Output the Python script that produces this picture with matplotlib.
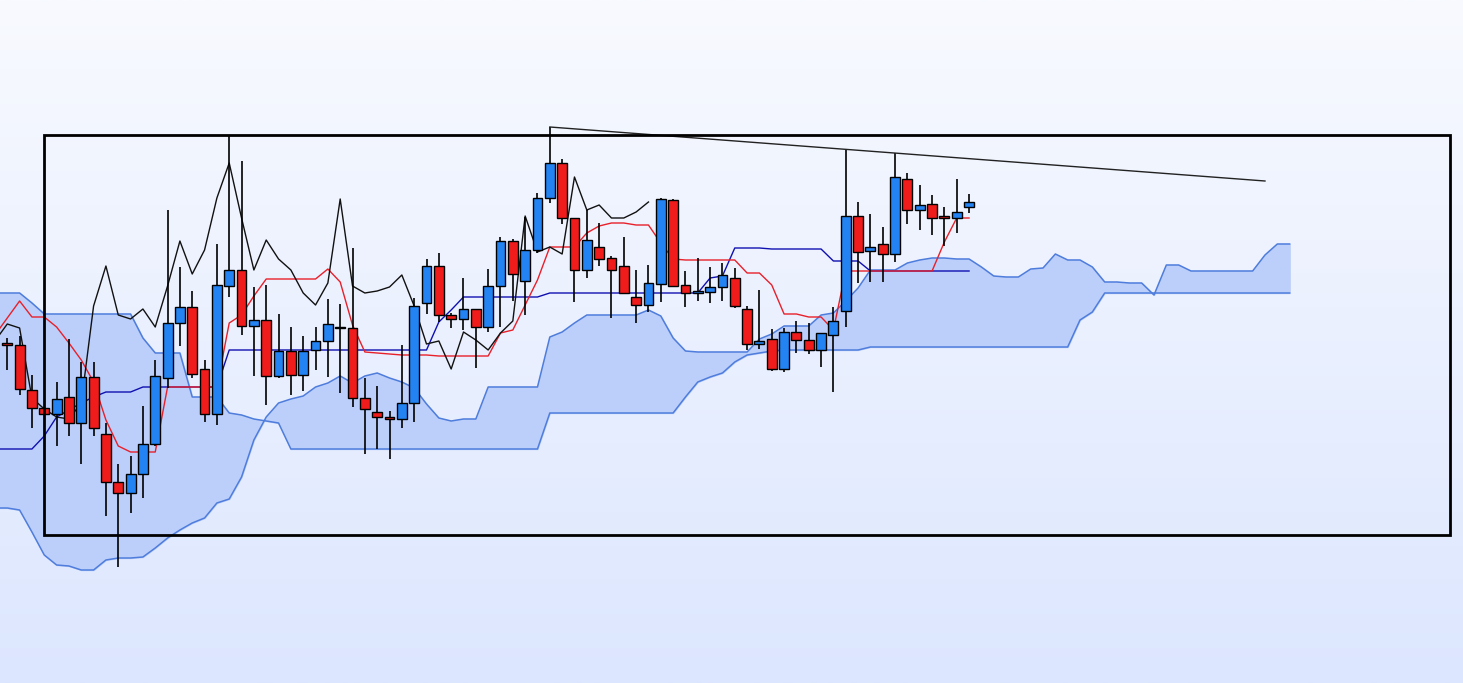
import numpy as np
import matplotlib
matplotlib.use("Agg")
import matplotlib.pyplot as plt
from matplotlib.patches import Rectangle

# candles (price units), index 0..78
opens = [357, 355, 310, 292, 286, 303, 277, 323, 266, 218,
         207, 226, 256, 322, 377, 393, 331, 286, 414, 430,
         374, 380, 324, 349, 325, 350, 359, 373, 372, 302,
         288, 283, 281, 297, 397, 434, 385, 381, 391, 373,
         414, 459, 419, 450, 502, 537, 482, 430, 453, 442,
         434, 403, 395, 416, 500, 415, 407, 408, 413, 422,
         391, 356, 361, 331, 368, 360, 350, 365, 389, 484,
         449, 456, 446, 521, 490, 496, 484, 482, 493]
highs = [362, 364, 325, 293, 318, 361, 338, 338, 277, 236,
         244, 294, 340, 490, 433, 409, 340, 456, 565, 539,
         413, 415, 386, 373, 364, 373, 401, 396, 452, 322,
         314, 289, 355, 402, 441, 447, 387, 422, 391, 431,
         463, 461, 483, 507, 573, 541, 482, 490, 477, 444,
         463, 430, 435, 502, 501, 429, 442, 433, 437, 432,
         394, 410, 371, 372, 379, 377, 367, 393, 550, 498,
         486, 473, 547, 527, 515, 505, 493, 521, 506]
lows = [330, 305, 272, 285, 254, 264, 236, 264, 184, 133,
        187, 202, 254, 312, 354, 322, 278, 275, 403, 365,
        324, 295, 322, 305, 309, 330, 323, 307, 293, 246,
        251, 241, 272, 278, 386, 378, 372, 370, 332, 368,
        373, 399, 385, 447, 497, 476, 398, 422, 434, 382,
        407, 377, 388, 398, 413, 393, 399, 397, 399, 392,
        350, 351, 329, 328, 347, 346, 333, 308, 373, 417,
        418, 418, 438, 476, 470, 465, 454, 467, 487]
closes = [355, 311, 292, 286, 301, 277, 323, 272, 218, 207,
          226, 256, 324, 377, 393, 326, 286, 415, 430, 374,
          380, 324, 349, 325, 349, 359, 376, 372, 302, 291,
          283, 281, 297, 394, 434, 385, 381, 391, 373, 414,
          459, 426, 450, 502, 537, 482, 430, 460, 441, 430,
          407, 395, 417, 501, 414, 407, 409, 413, 425, 394,
          356, 359, 331, 368, 360, 350, 367, 379, 484, 448,
          453, 446, 523, 490, 495, 482, 482, 488, 498]

# ichimoku lines, tenkan/kijun from index -1, spans from -1 to 104
tenkan = [365, 382, 399, 383, 383, 373, 357, 340, 318, 280,
          254, 248, 248, 248, 313, 313, 313, 313, 313, 377,
          385, 404, 421, 421, 421, 421, 421, 431, 418, 375,
          348, 347, 346, 345, 345, 345, 344, 344, 344, 344,
          344, 367, 370, 395, 420, 453, 453, 453, 467, 474,
          477, 477, 475, 475, 457, 441, 440, 440, 440, 440,
          440, 427, 427, 415, 386, 386, 383, 383, 370, 429,
          429, 429, 429, 429, 429, 429, 429, 458, 482, 482]
kijun = ([251] * 4 + [264, 283, 290, 297, 303] + [308] * 3 + [313] * 7
         + [350] * 17 + [378, 390] + [403] * 7 + [407] * 13 + [422, 424]
         + [452] * 3 + [451] * 5 + [439] * 3 + [429] * 9)
span_a = ([192, 192, 190, 168, 145, 135, 134, 130, 130, 140,
           142, 142, 143, 152, 162, 170, 177, 182, 197, 201,
           223, 260, 283, 297, 301, 304, 313, 317, 324, 317,
           324, 327, 322, 318, 312, 296, 282, 279, 281, 281]
          + [313] * 5 + [363, 368, 377] + [385] * 5 + [390, 384, 362, 349]
          + [348] * 5 + [361, 366] + [374] * 3 + [385, 387, 399, 412]
          + [430] * 3
          + [437, 440, 442, 442, 441, 441, 433, 424, 423, 423, 431, 432,
             446, 440, 440, 433, 418, 418, 417, 417, 405, 435, 435]
          + [429] * 6 + [445, 456, 456])
span_b = ([407] * 3 + [397] + [386] * 8 + [362] + [347] * 3 + [303] * 3
          + [287, 285, 281, 279, 277] + [251] * 21 + [287] * 11
          + [303, 318, 323, 327, 338, 345, 347, 349] + [350] * 7
          + [353] * 17 + [380, 388] + [407] * 16)

# trend line drawn from the high of candle 44
trend_x = [44, 102]
trend_y = [573, 519]

x = np.arange(len(closes))
x_line = np.arange(-1, len(tenkan) - 1)
x_span = np.arange(-1, len(span_a) - 1)
x_lag = np.arange(-1, len(closes) - 26)
lagging = closes[25:]

fig = plt.figure(figsize=(14.63, 6.83), dpi=100)
ax = fig.add_axes([0, 0, 1, 1])
xmin, xmax = -0.59, 118.06
ymin, ymax = 17, 700
ax.set_xlim(xmin, xmax)
ax.set_ylim(ymin, ymax)
ax.axis("off")

# background gradient
top = np.array([248, 250, 255]) / 255
bot = np.array([220, 230, 254]) / 255
t = np.linspace(0, 1, 256)[:, None]
grad = (top * (1 - t) + bot * t)[:, None, :]
ax.imshow(grad, extent=[xmin, xmax, ymin, ymax], aspect="auto", zorder=0)

# cloud
ax.fill_between(x_span, span_a, span_b, color="#bccffa", zorder=1)
ax.plot(x_span, span_a, color="#4f7ddc", lw=1.1, zorder=1.5)
ax.plot(x_span, span_b, color="#4f7ddc", lw=1.1, zorder=1.5)

ax.plot(x_line, kijun, color="#1010b0", lw=1.0, zorder=2)
ax.plot(x_line, tenkan, color="#e8202a", lw=1.0, zorder=2)
ax.plot(x_lag, lagging, color="#111111", lw=1.0, zorder=2)

# candles
o = np.array(opens)
c = np.array(closes)
up = c >= o
colors = np.where(up, "#2383f3", "#f01c1c")
ax.vlines(x, lows, highs, color="black", lw=1.2, zorder=3)
ax.bar(x, np.maximum(np.abs(c - o), 1.5), bottom=np.minimum(o, c), width=0.8,
       color=colors, edgecolor="black", linewidth=1.0, zorder=4)

ax.plot(trend_x, trend_y, color="#222222", lw=1.0, zorder=5)
ax.add_patch(Rectangle((0.0301, 0.2167), 0.961, 0.5856, transform=ax.transAxes,
                       fill=False, edgecolor="black", lw=2, zorder=6))

fig.savefig("out.png", dpi=100)
